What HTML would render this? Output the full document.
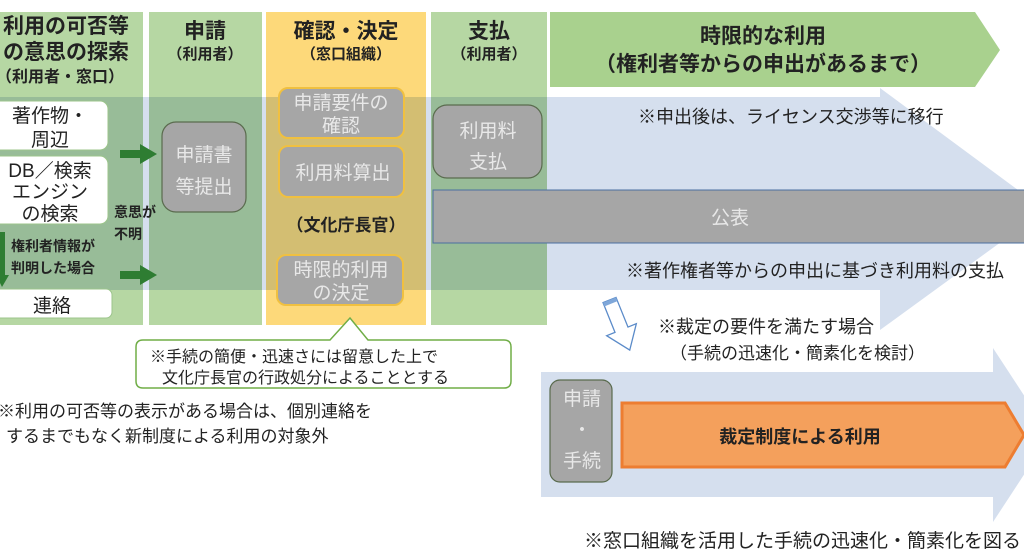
<!DOCTYPE html>
<html><head><meta charset="utf-8"><style>
html,body{margin:0;padding:0;background:#fff;width:1024px;height:556px;overflow:hidden}
text{font-family:"Liberation Sans","Noto Sans CJK JP",sans-serif}
</style></head><body>
<svg width="1024" height="556" viewBox="0 0 1024 556" xmlns="http://www.w3.org/2000/svg">
<rect x="0" y="12" width="143" height="313" fill="#b6d7a3"/>
<rect x="149" y="12" width="113" height="313" fill="#b6d7a3"/>
<rect x="266" y="12" width="160" height="313" fill="#fdd97a"/>
<rect x="431" y="12" width="116" height="313" fill="#b6d7a3"/>
<polygon points="550,12 975,12 1000,50 975,87 550,87" fill="#a9d18e"/>
<polygon points="0,97 880,97 880,88 1045,210 880,330 880,290 0,290" fill="#d5dfee" style="mix-blend-mode:multiply"/>
<polygon points="541,372 993,372 993,348 1050,435 993,522 993,497 541,497" fill="#d5dfee"/>
<g font-weight="bold" fill="#222" text-anchor="middle">
<text x="66" y="33" font-size="21">利用の可否等</text>
<text x="66" y="59" font-size="21">の意思の探索</text>
<text x="60" y="82" font-size="16">（利用者・窓口）</text>
<text x="205" y="38" font-size="21">申請</text>
<text x="205" y="59" font-size="15">（利用者）</text>
<text x="346" y="38" font-size="21">確認・決定</text>
<text x="346" y="59" font-size="15">（窓口組織）</text>
<text x="489" y="38" font-size="21">支払</text>
<text x="489" y="59" font-size="15">（利用者）</text>
<text x="763" y="43" font-size="21">時限的な利用</text>
<text x="763" y="71" font-size="21">（権利者等からの申出があるまで）</text>
</g>
<g fill="#fff" stroke="#9cc58b" stroke-width="1">
<rect x="-8" y="101" width="116" height="49" rx="8"/>
<rect x="-8" y="156" width="116" height="68" rx="8"/>
<rect x="-8" y="289" width="120" height="29" rx="6"/>
</g>
<g font-size="19" fill="#222" text-anchor="middle">
<text x="50" y="122">著作物・</text>
<text x="50" y="146">周辺</text>
<text x="50" y="177">DB／検索</text>
<text x="50" y="198">エンジン</text>
<text x="50" y="220">の検索</text>
<text x="52" y="312">連絡</text>
</g>
<g fill="#2e7d32">
<rect x="120" y="150" width="22" height="8"/><polygon points="140,144 157,154 140,164"/>
<rect x="120" y="271" width="22" height="8"/><polygon points="140,265 157,275 140,285"/>
<rect x="0" y="232" width="5" height="45"/><polygon points="-4,275 9,275 2,287"/>
</g>
<g font-size="14" font-weight="bold" fill="#222">
<text x="114" y="217">意思が</text>
<text x="114" y="239">不明</text>
<text x="11" y="251">権利者情報が</text>
<text x="11" y="273">判明した場合</text>
</g>
<g fill="#a6a6a6" stroke="#5a6b4e" stroke-width="1.2">
<rect x="162" y="122" width="84" height="90" rx="14"/>
<rect x="433" y="105" width="109" height="73" rx="14"/>
<rect x="550" y="380" width="62" height="102" rx="10"/>
</g>
<g fill="#a6a6a6" stroke="#f0c040" stroke-width="2">
<rect x="279" y="88" width="125" height="50" rx="9"/>
<rect x="279" y="146" width="125" height="51" rx="9"/>
<rect x="277" y="255" width="126" height="50" rx="9"/>
</g>
<rect x="433" y="190" width="600" height="53" fill="#a6a6a6" stroke="#4a6fa0" stroke-width="1"/>
<g font-size="19" fill="#e8e8e8" text-anchor="middle">
<text x="204" y="161">申請書</text>
<text x="204" y="193">等提出</text>
<text x="341" y="109">申請要件の</text>
<text x="341" y="132">確認</text>
<text x="343" y="179">利用料算出</text>
<text x="341" y="276">時限的利用</text>
<text x="341" y="299">の決定</text>
<text x="488" y="137">利用料</text>
<text x="488" y="168">支払</text>
<text x="730" y="224">公表</text>
<text x="582" y="405">申請</text>
<text x="582" y="436">・</text>
<text x="582" y="467">手続</text>
</g>
<text x="346" y="231" font-size="17" font-weight="bold" fill="#222" text-anchor="middle">（文化庁長官）</text>
<path d="M143,340 L330,340 L350,318 L368,340 L504,340 Q511,340 511,347 L511,381 Q511,388 504,388 L143,388 Q136,388 136,381 L136,347 Q136,340 143,340 Z" fill="#fff" stroke="#70ad47" stroke-width="1.5"/>
<g font-size="16" fill="#222">
<text x="150" y="362">※手続の簡便・迅速さには留意した上で</text>
<text x="162" y="383">文化庁長官の行政処分によることとする</text>
<text x="-2" y="417" font-size="17">※利用の可否等の表示がある場合は、個別連絡を</text>
<text x="6" y="442" font-size="17">するまでもなく新制度による利用の対象外</text>
<text x="638" y="123" font-size="18">※申出後は、ライセンス交渉等に移行</text>
<text x="626" y="277" font-size="18">※著作権者等からの申出に基づき利用料の支払</text>
<text x="658" y="333" font-size="18">※裁定の要件を満たす場合</text>
<text x="670" y="359" font-size="17">（手続の迅速化・簡素化を検討）</text>
<text x="584" y="547" font-size="19">※窓口組織を活用した手続の迅速化・簡素化を図る</text>
</g>
<g transform="translate(620,326) rotate(-22)">
<polygon points="-7,-28 7,-28 7,4 16,4 0,26 -16,4 -7,4" fill="#fff" stroke="#5b8bc9" stroke-width="1.3"/>
<rect x="-7" y="-28" width="14" height="4" fill="#7fa7d9"/>
</g>
<polygon points="622,403 1005,403 1024,435 1005,467 622,467" fill="#f4a05c" stroke="#ed7d31" stroke-width="3"/>
<text x="800" y="443" font-size="18" font-weight="bold" fill="#222" text-anchor="middle">裁定制度による利用</text>
</svg>
</body></html>
